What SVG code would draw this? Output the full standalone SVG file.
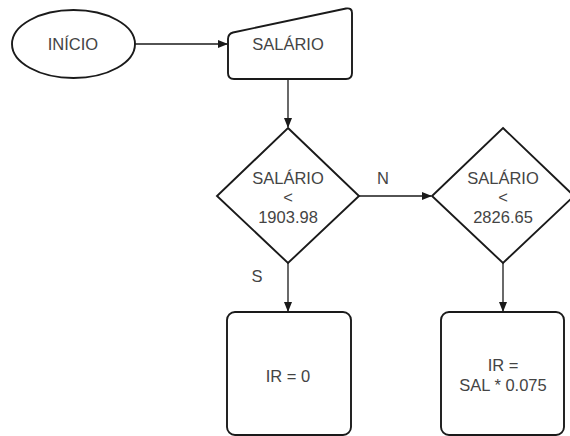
<svg xmlns="http://www.w3.org/2000/svg" width="570" height="436" viewBox="0 0 570 436">
<style>
.s{fill:#fff;stroke:#1a1a1a;stroke-width:1.9}
.t{font-family:"Liberation Sans",Arial,sans-serif;font-size:16.5px;fill:#444;text-anchor:middle}
.c{fill:none;stroke:#1a1a1a;stroke-width:1.3}
</style>
<defs>
<marker id="a" markerWidth="10" markerHeight="8" refX="9" refY="4" orient="auto" markerUnits="userSpaceOnUse">
<path d="M0,0 L10,4 L0,8 Z" fill="#1a1a1a"/>
</marker>
</defs>
<rect width="570" height="436" fill="#fff"/>
<g id="connectors">
<line class="c" x1="135" y1="44" x2="227" y2="44" marker-end="url(#a)"/>
<line class="c" x1="288" y1="79" x2="288" y2="127" marker-end="url(#a)"/>
<line class="c" x1="359" y1="196" x2="431" y2="196" marker-end="url(#a)"/>
<line class="c" x1="288" y1="263" x2="288" y2="311" marker-end="url(#a)"/>
<line class="c" x1="503" y1="263" x2="503" y2="311" marker-end="url(#a)"/>
<text class="t" x="383" y="184">N</text>
<text class="t" x="257" y="282">S</text>
</g>
<g id="inicio">
<ellipse class="s" cx="73.5" cy="44" rx="61.5" ry="34"/>
<text class="t" x="73" y="50">INÍCIO</text>
</g>
<g id="salario">
<path class="s" d="M228,39 Q228,34 233,32.5 L346,8.5 Q352,7.5 352,13 L352,73 Q352,79 346,79 L234,79 Q228,79 228,73 Z"/>
<text class="t" x="288" y="50">SALÁRIO</text>
</g>
<g id="dec1">
<polygon class="s" points="288,128 359,196 288,263 217,196"/>
<text class="t" x="288" y="184">SALÁRIO</text>
<text class="t" x="288" y="203">&lt;</text>
<text class="t" x="288" y="223">1903.98</text>
</g>
<g id="dec2">
<polygon class="s" points="503,128 574,196 503,263 432,196"/>
<text class="t" x="503" y="184">SALÁRIO</text>
<text class="t" x="503" y="203">&lt;</text>
<text class="t" x="503" y="223">2826.65</text>
</g>
<g id="ir0">
<rect class="s" x="227" y="312" width="124" height="123" rx="8"/>
<text class="t" x="288" y="382">IR = 0</text>
</g>
<g id="ir1">
<rect class="s" x="441" y="312" width="123" height="123" rx="8"/>
<text class="t" x="503" y="371">IR =</text>
<text class="t" x="503" y="391">SAL * 0.075</text>
</g>
</svg>
